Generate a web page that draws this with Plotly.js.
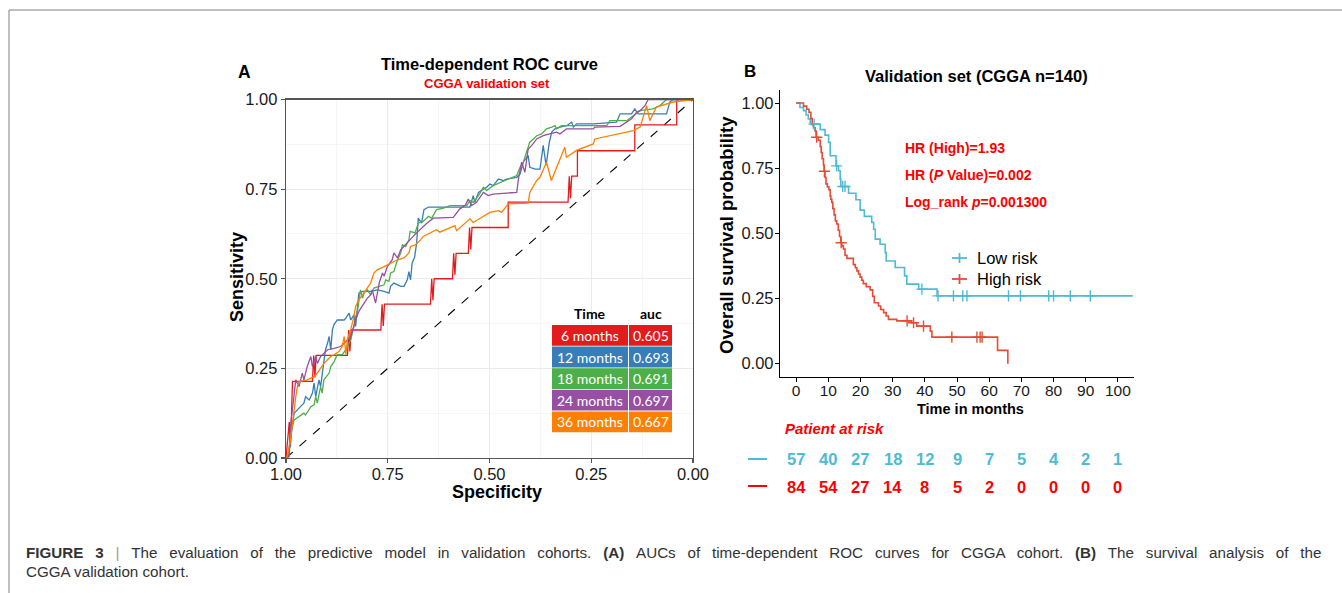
<!DOCTYPE html>
<html><head><meta charset="utf-8">
<script src="https://cdn.plot.ly/plotly-3.0.1.min.js"></script>
<style>html,body{margin:0;padding:0;background:#fff;}#chart{width:1342px;height:593px;}</style>
</head><body><div id="chart"></div>
<script>
// ---------- Panel A: time-dependent ROC (specificity, sensitivity) ----------
const rocTimes = ['6 months','12 months','18 months','24 months','36 months'];
const rocAuc = [0.605, 0.693, 0.691, 0.697, 0.667];
const rocColors = ['#E41A1C','#377EB8','#4DAF4A','#984EA3','#FF7F00'];

const roc06 = [[1.000,0.000],[0.992,0.100],[0.989,0.030],[0.984,0.214],[0.935,0.214],[0.932,0.286],[0.929,0.225],[0.926,0.286],
[0.849,0.286],[0.846,0.357],[0.843,0.297],[0.840,0.357],[0.767,0.357],[0.764,0.429],[0.761,0.368],[0.758,0.429],
[0.645,0.429],[0.642,0.500],[0.639,0.440],[0.636,0.500],[0.591,0.500],[0.588,0.571],[0.585,0.511],[0.582,0.571],
[0.552,0.571],[0.549,0.643],[0.546,0.582],[0.543,0.643],[0.454,0.643],[0.454,0.714],[0.307,0.714],[0.304,0.786],
[0.301,0.725],[0.298,0.786],[0.284,0.786],[0.284,0.857],[0.143,0.857],[0.143,0.929],[0.040,0.929],[0.040,1.000],[0.000,1.000]];

const roc12 = [[1.000,0.000],[0.993,0.004],[0.989,0.050],[0.984,0.088],[0.980,0.125],[0.968,0.139],[0.956,0.153],[0.952,0.171],
[0.943,0.162],[0.935,0.181],[0.931,0.209],[0.927,0.171],[0.919,0.218],[0.915,0.199],[0.911,0.237],[0.907,0.264],[0.903,0.302],
[0.898,0.320],[0.894,0.339],[0.890,0.302],[0.886,0.358],[0.882,0.372],[0.874,0.385],[0.857,0.385],[0.853,0.390],[0.845,0.404],
[0.841,0.385],[0.833,0.399],[0.829,0.367],[0.821,0.460],[0.812,0.465],[0.792,0.465],[0.776,0.469],[0.759,0.465],[0.747,0.460],
[0.743,0.479],[0.735,0.488],[0.718,0.479],[0.710,0.479],[0.702,0.497],[0.698,0.520],[0.694,0.497],[0.690,0.544],[0.684,0.560],
[0.679,0.600],[0.675,0.669],[0.667,0.655],[0.661,0.693],[0.650,0.700],[0.548,0.700],[0.540,0.732],[0.536,0.713],[0.527,0.741],
[0.515,0.750],[0.507,0.755],[0.499,0.764],[0.491,0.760],[0.478,0.778],[0.466,0.774],[0.458,0.778],[0.433,0.783],[0.425,0.792],
[0.417,0.825],[0.405,0.844],[0.401,0.811],[0.388,0.806],[0.376,0.806],[0.368,0.872],[0.361,0.816],[0.353,0.881],[0.347,0.909],
[0.339,0.918],[0.327,0.923],[0.310,0.927],[0.298,0.937],[0.294,0.923],[0.286,0.932],[0.245,0.932],[0.188,0.937],[0.179,0.960],
[0.151,0.960],[0.143,0.974],[0.135,0.960],[0.065,0.960],[0.057,0.993],[0.049,1.000],[0.000,1.000]];

const roc18 = [[1.000,0.000],[0.993,0.004],[0.989,0.069],[0.980,0.106],[0.956,0.125],[0.952,0.120],[0.939,0.143],[0.931,0.148],
[0.927,0.171],[0.923,0.153],[0.915,0.199],[0.911,0.181],[0.907,0.218],[0.894,0.237],[0.890,0.255],[0.882,0.269],[0.874,0.288],
[0.862,0.288],[0.853,0.302],[0.849,0.311],[0.841,0.330],[0.833,0.367],[0.829,0.395],[0.825,0.404],[0.817,0.469],[0.812,0.446],
[0.808,0.460],[0.800,0.469],[0.792,0.455],[0.784,0.474],[0.767,0.479],[0.759,0.483],[0.755,0.497],[0.747,0.493],[0.743,0.516],
[0.735,0.520],[0.726,0.553],[0.718,0.572],[0.714,0.595],[0.706,0.590],[0.698,0.609],[0.695,0.632],[0.683,0.628],[0.675,0.655],
[0.663,0.660],[0.650,0.674],[0.642,0.669],[0.630,0.693],[0.613,0.697],[0.597,0.704],[0.556,0.704],[0.548,0.718],[0.540,0.713],
[0.527,0.732],[0.515,0.755],[0.507,0.746],[0.491,0.760],[0.474,0.768],[0.458,0.774],[0.433,0.788],[0.425,0.811],[0.417,0.825],
[0.409,0.853],[0.401,0.881],[0.392,0.890],[0.384,0.899],[0.372,0.904],[0.360,0.918],[0.347,0.923],[0.339,0.927],[0.335,0.918],
[0.323,0.927],[0.212,0.927],[0.204,0.941],[0.163,0.941],[0.147,0.955],[0.130,0.969],[0.098,0.974],[0.081,0.983],[0.065,1.000],[0.000,1.000]];

const roc24 = [[1.000,0.000],[0.993,0.004],[0.989,0.088],[0.984,0.143],[0.980,0.181],[0.976,0.218],[0.968,0.199],[0.960,0.237],
[0.956,0.218],[0.948,0.255],[0.939,0.283],[0.935,0.255],[0.927,0.283],[0.923,0.264],[0.915,0.283],[0.898,0.302],[0.882,0.306],
[0.866,0.311],[0.857,0.320],[0.849,0.330],[0.841,0.339],[0.829,0.385],[0.821,0.409],[0.808,0.432],[0.800,0.446],[0.792,0.455],
[0.788,0.469],[0.780,0.432],[0.771,0.488],[0.763,0.516],[0.759,0.507],[0.751,0.534],[0.739,0.553],[0.735,0.572],[0.726,0.558],
[0.718,0.581],[0.710,0.590],[0.702,0.600],[0.691,0.614],[0.679,0.628],[0.671,0.637],[0.654,0.655],[0.638,0.669],[0.622,0.670],
[0.589,0.671],[0.573,0.695],[0.560,0.704],[0.552,0.722],[0.544,0.704],[0.532,0.713],[0.515,0.741],[0.503,0.732],[0.491,0.736],
[0.433,0.741],[0.429,0.778],[0.421,0.825],[0.413,0.797],[0.405,0.862],[0.396,0.872],[0.384,0.890],[0.368,0.899],[0.352,0.904],
[0.335,0.909],[0.327,0.904],[0.311,0.918],[0.245,0.918],[0.241,0.923],[0.179,0.925],[0.163,0.937],[0.151,0.946],[0.138,0.965],
[0.130,0.969],[0.118,0.983],[0.110,1.000],[0.000,1.000]];

const roc36 = [[1.000,0.000],[0.997,0.004],[0.989,0.050],[0.982,0.125],[0.976,0.171],[0.972,0.199],[0.968,0.213],[0.948,0.218],
[0.939,0.223],[0.931,0.227],[0.923,0.237],[0.915,0.250],[0.907,0.264],[0.898,0.274],[0.890,0.283],[0.882,0.288],[0.870,0.297],
[0.862,0.311],[0.857,0.339],[0.853,0.288],[0.849,0.330],[0.841,0.358],[0.837,0.376],[0.833,0.395],[0.829,0.423],[0.821,0.441],
[0.812,0.455],[0.804,0.469],[0.792,0.488],[0.784,0.516],[0.776,0.525],[0.759,0.534],[0.743,0.544],[0.726,0.553],[0.710,0.558],
[0.698,0.572],[0.694,0.590],[0.681,0.595],[0.669,0.609],[0.663,0.618],[0.630,0.637],[0.622,0.630],[0.585,0.648],[0.581,0.634],
[0.548,0.667],[0.540,0.657],[0.499,0.685],[0.478,0.690],[0.470,0.685],[0.454,0.709],[0.405,0.711],[0.401,0.741],[0.384,0.774],
[0.376,0.783],[0.360,0.825],[0.348,0.774],[0.315,0.867],[0.311,0.839],[0.286,0.858],[0.245,0.876],[0.241,0.890],[0.204,0.899],
[0.147,0.913],[0.130,0.923],[0.114,0.983],[0.106,0.941],[0.090,0.979],[0.049,0.993],[0.000,1.000]];

const rocCurves = [roc06, roc12, roc18, roc24, roc36];

// ---------- Panel B: Kaplan-Meier ----------
const lowTime = [0,1.2,2.3,3.1,3.8,4.4,7.5,9.0,10.1,10.6,12.4,13.2,13.7,13.9,16.3,18.6,19.9,21.2,23.5,24.1,24.6,26.1,27.7,28.0,30.8,33.7,34.4,38.1,43.8,104.6];
const lowSurv = [1,0.983,0.971,0.954,0.939,0.919,0.898,0.877,0.849,0.798,0.759,0.740,0.708,0.680,0.654,0.629,0.589,0.565,0.542,0.516,0.478,0.458,0.426,0.394,0.369,0.337,0.305,0.286,0.260,0.260];
const lowCensTime = [5.6,12.6,14.5,15.2,39.1,44.1,48.9,51.8,53.1,66.0,69.7,78.5,80.0,85.2,91.4];
const lowCensSurv = [0.919,0.759,0.680,0.680,0.286,0.260,0.260,0.260,0.260,0.260,0.260,0.260,0.260,0.260,0.260];

const highTime = [0,2.3,3.3,4.0,4.6,5.0,5.4,5.9,6.2,6.9,7.5,7.8,8.1,8.5,8.7,9.0,9.3,9.7,10.2,10.6,10.8,11.1,11.4,11.8,12.2,12.6,13.1,13.5,13.9,14.2,14.7,15.2,15.8,17.8,18.4,18.9,19.4,19.9,20.4,20.9,21.8,23.0,23.8,24.3,25.6,26.3,27.2,28.0,28.7,31.3,35.8,37.5,41.7,42.2,62.6,65.8];
const highSurv = [1,0.988,0.976,0.964,0.940,0.917,0.905,0.893,0.869,0.857,0.833,0.810,0.786,0.762,0.738,0.714,0.690,0.679,0.667,0.643,0.631,0.619,0.595,0.571,0.548,0.536,0.512,0.488,0.464,0.452,0.440,0.416,0.404,0.380,0.368,0.356,0.344,0.332,0.320,0.307,0.295,0.283,0.258,0.234,0.221,0.208,0.196,0.183,0.170,0.164,0.157,0.144,0.125,0.102,0.051,0.0];
const highCensTime = [6.4,8.8,14.0,34.5,36.5,39.6,48.4,56.2,57.2,57.8];
const highCensSurv = [0.869,0.738,0.464,0.164,0.157,0.144,0.102,0.102,0.102,0.102];

const riskTimes = [0,10,20,30,40,50,60,70,80,90,100];
const lowAtRisk = [57,40,27,18,12,9,7,5,4,2,1];
const highAtRisk = [84,54,27,14,8,5,2,0,0,0,0];
const groupNames = ['Low risk','High risk'];
const groupColors = ['#4DBBD5','#E64B35'];

const captionLine1 = 'FIGURE 3 | The evaluation of the predictive model in validation cohorts. (A) AUCs of time-dependent ROC curves for CGGA cohort. (B) The survival analysis of the';
const captionLine2 = 'CGGA validation cohort.';

// ---------- build ----------
const W = 1342, H = 593;
const px = v => v / W;
const py = v => 1 - v / H;
const FONT = 'Liberation Sans, Arial, sans-serif';

const traces = [];
traces.push({type:'scatter', mode:'lines', x:[1,0], y:[0,1], xaxis:'x', yaxis:'y',
  line:{color:'#000', width:1.1, dash:'dash'}, showlegend:false, hoverinfo:'skip'});
rocCurves.forEach((c, i) => {
  traces.push({type:'scatter', mode:'lines', x:c.map(p=>p[0]), y:c.map(p=>p[1]), xaxis:'x', yaxis:'y',
    line:{color:rocColors[i], width:1.3}, showlegend:false, hoverinfo:'skip'});
});

// KM
traces.push({type:'scatter', mode:'lines', x:lowTime, y:lowSurv, xaxis:'x2', yaxis:'y2',
  line:{color:groupColors[0], width:1.6, shape:'hv'}, showlegend:false, hoverinfo:'skip'});
traces.push({type:'scatter', mode:'lines', x:highTime, y:highSurv, xaxis:'x2', yaxis:'y2',
  line:{color:groupColors[1], width:1.6, shape:'hv'}, showlegend:false, hoverinfo:'skip'});
traces.push({type:'scatter', mode:'markers', x:lowCensTime, y:lowCensSurv, xaxis:'x2', yaxis:'y2',
  marker:{symbol:'cross-thin', size:8, line:{color:groupColors[0], width:1.4}}, showlegend:false, hoverinfo:'skip'});
traces.push({type:'scatter', mode:'markers', x:highCensTime, y:highCensSurv, xaxis:'x2', yaxis:'y2',
  marker:{symbol:'cross-thin', size:8, line:{color:groupColors[1], width:1.4}}, showlegend:false, hoverinfo:'skip'});

const ann = [];
const shapes = [];
const A = (text, x, y, o) => ann.push(Object.assign({text, x, y, xref:'paper', yref:'paper', showarrow:false,
  xanchor:'center', yanchor:'middle', font:{family:FONT, size:14, color:'#000'}}, o||{}));
const rect = (x0, x1, y0, y1, color) => shapes.push({type:'rect', xref:'paper', yref:'paper',
  x0:px(x0), x1:px(x1), y0:py(y1), y1:py(y0), fillcolor:color, line:{width:0}, layer:'above'});
const seg = (x0, x1, y0, y1, color, w) => shapes.push({type:'line', xref:'paper', yref:'paper',
  x0:px(x0), x1:px(x1), y0:py(y0), y1:py(y1), line:{color, width:w}});

A('<b>A</b>', px(244), py(72), {font:{family:FONT, size:17.5, color:'#000'}});
A('<b>Time-dependent ROC curve</b>', px(489), py(64), {font:{family:FONT, size:16.5, color:'#000'}});
A('<b>CGGA validation set</b>', px(487), py(84), {font:{family:FONT, size:13, color:'#FF0000'}});
A('<b>Sensitivity</b>', px(237), py(277), {textangle:-90, font:{family:FONT, size:18, color:'#000'}});
A('<b>Specificity</b>', px(497), py(492), {font:{family:FONT, size:18, color:'#000'}});

// AUC table
const TBL = 'Lato, sans-serif';
A('<b>Time</b>', px(590), py(313), {font:{family:TBL, size:14, color:'#000'}});
A('<b>auc</b>', px(650.5), py(313), {font:{family:TBL, size:14, color:'#000'}});
rocTimes.forEach((t, i) => {
  const top = 325 + 21.6 * i;
  rect(552, 628, top, top + 20.8, rocColors[i]);
  rect(629, 672, top, top + 20.8, rocColors[i]);
  A(t, px(590), py(top + 10.6), {font:{family:TBL, size:14, color:'#fff'}});
  A(rocAuc[i].toFixed(3), px(650.5), py(top + 10.6), {font:{family:TBL, size:14, color:'#fff'}});
});

A('<b>B</b>', px(750), py(72), {font:{family:FONT, size:17, color:'#000'}});
A('<b>Validation set (CGGA n=140)</b>', px(977), py(76), {font:{family:FONT, size:16.5, color:'#000'}});
A('<b>Overall survival probability</b>', px(727), py(235), {textangle:-90, font:{family:FONT, size:18.5, color:'#000'}});
A('<b>Time in months</b>', px(970), py(409), {font:{family:FONT, size:14.5, color:'#000'}});
A('<b>HR (High)=1.93</b>', px(903), py(148), {xanchor:'left', font:{family:FONT, size:14, color:'#FF0000'}});
A('<b>HR (<i>P</i> Value)=0.002</b>', px(903), py(175), {xanchor:'left', font:{family:FONT, size:14, color:'#FF0000'}});
A('<b>Log_rank <i>p</i>=0.001300</b>', px(903), py(202), {xanchor:'left', font:{family:FONT, size:14, color:'#FF0000'}});

// legend (KM)
groupNames.forEach((n, i) => {
  const yy = 258 + 21 * i;
  seg(952, 967, yy, yy, groupColors[i], 1.8);
  seg(959.5, 959.5, yy - 5, yy + 5, groupColors[i], 1.8);
  A(n, px(975), py(yy), {xanchor:'left', font:{family:FONT, size:16.5, color:'#000'}});
});

A('<b><i>Patient at risk</i></b>', px(783), py(428), {xanchor:'left', font:{family:FONT, size:15, color:'#FF0000'}});
riskTimes.forEach((t, i) => {
  ann.push({text:'<b>'+lowAtRisk[i]+'</b>', x:t, xref:'x2', y:py(459), yref:'paper', showarrow:false,
    xanchor:'center', yanchor:'middle', font:{family:FONT, size:16.5, color:groupColors[0]}});
  ann.push({text:'<b>'+highAtRisk[i]+'</b>', x:t, xref:'x2', y:py(487), yref:'paper', showarrow:false,
    xanchor:'center', yanchor:'middle', font:{family:FONT, size:16.5, color:'#FF0000'}});
});
seg(748, 767, 459, 459, groupColors[0], 2);
seg(748, 767, 486, 486, '#FF0000', 2);

// caption (justified look: widened word gaps)
const widen = s => s.split(' ').join(' \u2002');
const cap1 = widen(captionLine1)
  .replace('FIGURE \u20023', '<b>FIGURE \u20023</b>')
  .replace('|', '<span style="color:#999">|</span>')
  .replace('(A)', '<b>(A)</b>').replace('(B)', '<b>(B)</b>');
A(cap1, px(24), py(552), {xanchor:'left', font:{family:FONT, size:15.2, color:'#333'}});
A(captionLine2, px(24), py(571), {xanchor:'left', font:{family:FONT, size:15.2, color:'#333'}});

// page frame
seg(9, W, 10, 10, '#aaaaaa', 1.5);
seg(9, 9, 10, H, '#aaaaaa', 1.5);

const axA = {showline:true, mirror:true, linecolor:'#555', linewidth:1.3, ticks:'outside', ticklen:4, tickcolor:'#555',
  tickwidth:1.2, showgrid:true, gridcolor:'#ebebeb', gridwidth:1, zeroline:false, dtick:0.25, tick0:0, tickformat:'.2f',
  minor:{dtick:0.125, tick0:0, showgrid:true, gridcolor:'#f4f4f4', gridwidth:0.8, ticks:''},
  tickfont:{family:FONT, size:16.5, color:'#1a1a1a'}, fixedrange:true};

const layout = {
  width:W, height:H, margin:{l:0, r:0, t:0, b:0}, paper_bgcolor:'#fff', plot_bgcolor:'#fff',
  font:{family:FONT}, showlegend:false,
  xaxis:Object.assign({}, axA, {domain:[px(286), px(693)], range:[1,0], anchor:'y', ticklabelstandoff:-3}),
  yaxis:Object.assign({}, axA, {domain:[py(458), py(99.5)], range:[0,1], anchor:'x'}),
  xaxis2:{domain:[px(780), px(1134)], range:[-5,105], anchor:'y2', tickvals:riskTimes, showline:true, linecolor:'#000',
    linewidth:1.2, ticks:'outside', ticklen:4, tickcolor:'#000', showgrid:false, zeroline:false, ticklabelstandoff:-5,
    tickfont:{family:FONT, size:15.5, color:'#1a1a1a'}, fixedrange:true},
  yaxis2:{domain:[py(376.7), py(90)], range:[-0.05,1.05], anchor:'x2', tickvals:[0,0.25,0.5,0.75,1],
    ticktext:['0.00','0.25','0.50','0.75','1.00'], showline:true, linecolor:'#000', linewidth:1.2, ticks:'outside',
    ticklen:4, tickcolor:'#000', showgrid:false, zeroline:false, ticklabelstandoff:-2,
    tickfont:{family:FONT, size:16.5, color:'#1a1a1a'}, fixedrange:true},
  annotations:ann, shapes:shapes
};

Plotly.newPlot('chart', traces, layout, {displayModeBar:false, staticPlot:true});
</script></body></html>
